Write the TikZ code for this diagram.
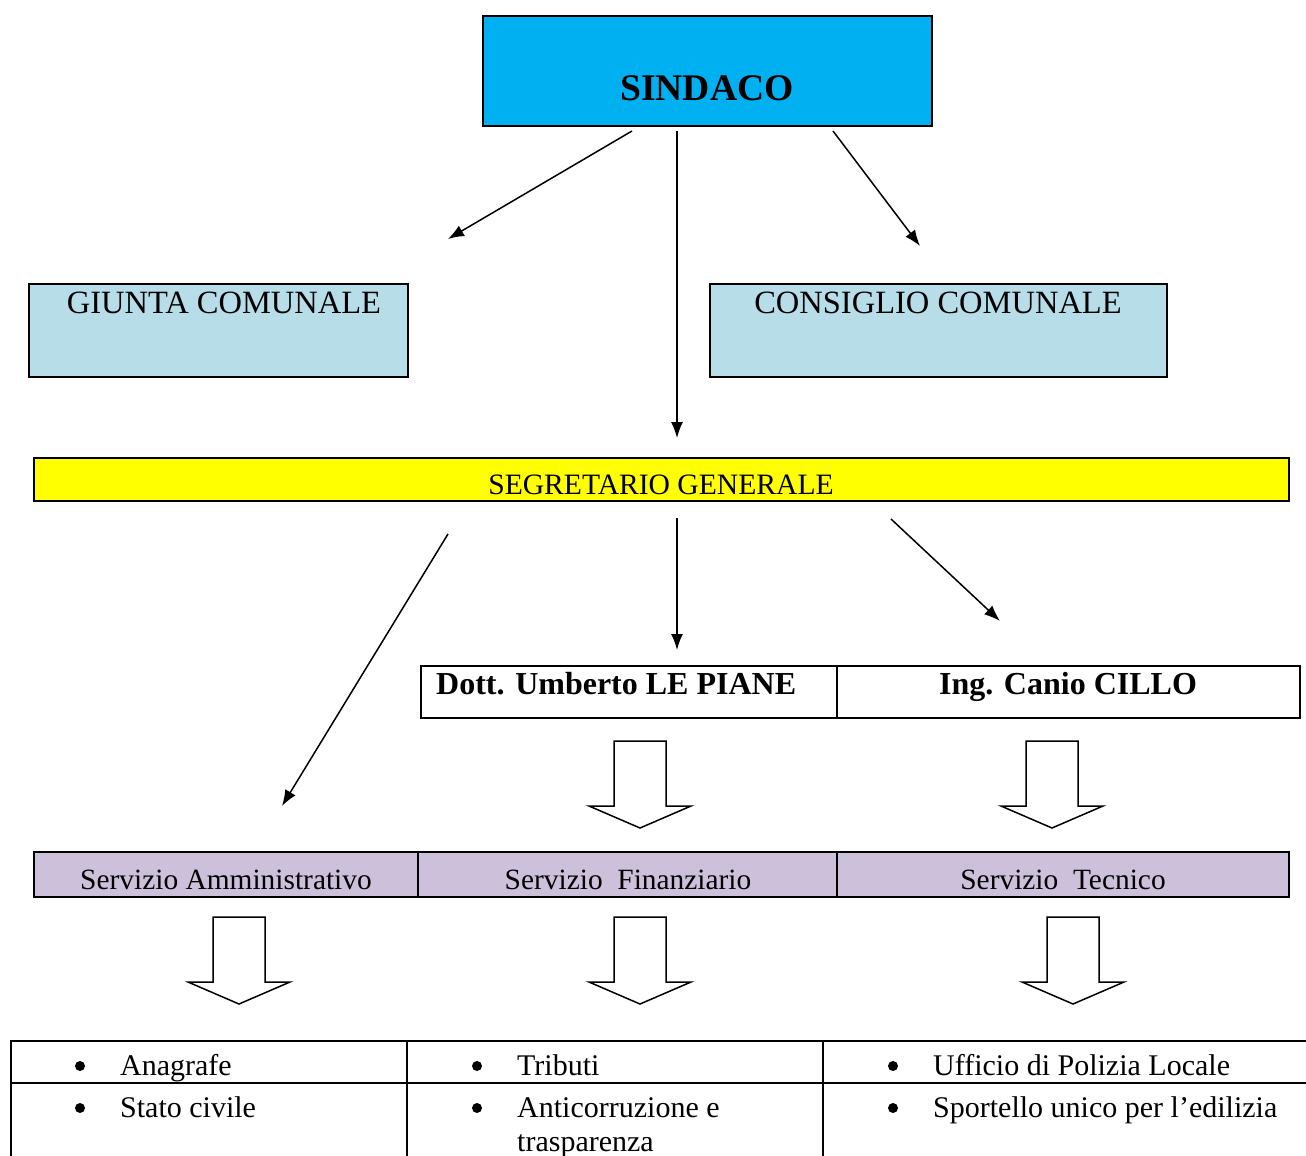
\documentclass[tikz,border=0pt]{standalone}
\usepackage{fontspec}
\setmainfont{Liberation Serif}
\usetikzlibrary{arrows.meta}
\definecolor{sindblue}{HTML}{00B0F0}
\definecolor{lightblue}{HTML}{B7DDE8}
\definecolor{lilac}{HTML}{CCC0DA}
\definecolor{segyellow}{HTML}{FFFF00}
\begin{document}
\begin{tikzpicture}[x=1pt,y=-1pt,
  box/.style={draw=black,line width=2pt},
  conn/.style={line width=1.5pt,-{Latex[length=16pt,width=12pt]}},
  txt/.style={inner sep=0pt,anchor=base},
  bigarrow/.style={draw=black,line width=1.5pt,fill=white,line join=miter},
  bul/.style={circle,fill=black,inner sep=0pt,minimum size=10pt}]
\useasboundingbox (0,0) rectangle (1306,1156);
% SINDACO
\filldraw[box,fill=sindblue] (483,16) rectangle (932,126);
\node[txt,font=\fontsize{37.6}{40}\selectfont\bfseries] (sind) at (707,100) {SINDACO};
% Giunta / Consiglio
\filldraw[box,fill=lightblue] (29,284) rectangle (408,377);
\node[txt,font=\fontsize{32.5}{34}\selectfont] (giunta) at (224,313) {GIUNTA COMUNALE};
\filldraw[box,fill=lightblue] (710,284) rectangle (1167,377);
\node[txt,font=\fontsize{32.5}{34}\selectfont] (cons) at (938,313) {CONSIGLIO COMUNALE};
% arrows from sindaco
\coordinate (s1) at (632,131); \coordinate (e1) at (448,239);
\coordinate (s2) at (677,131); \coordinate (e2) at (677,438);
\coordinate (s3) at (833,131); \coordinate (e3) at (920,246);
\draw[conn] (s1) -- (e1);
\draw[conn] (s2) -- (e2);
\draw[conn] (s3) -- (e3);
% Segretario
\filldraw[box,fill=segyellow] (34,458) rectangle (1289,501);
\node[txt,font=\fontsize{29.6}{31}\selectfont] (segr) at (661,494) {SEGRETARIO GENERALE};
\coordinate (t1) at (448,534); \coordinate (f1) at (282,806);
\coordinate (t2) at (677,518); \coordinate (f2) at (677,650);
\coordinate (t3) at (891,519); \coordinate (f3) at (1000,621);
\draw[conn] (t1) -- (f1);
\draw[conn] (t2) -- (f2);
\draw[conn] (t3) -- (f3);
% Names row
\draw[box] (421,666) rectangle (1300,718);
\draw[line width=1.5pt] (837,666) -- (837,718);
\node[txt,anchor=base west,font=\fontsize{32}{34}\selectfont\bfseries] (dott) at (436,694) {Dott. Umberto LE PIANE};
\node[txt,font=\fontsize{32}{34}\selectfont\bfseries] (ing) at (1068,694) {Ing. Canio CILLO};
% block arrows
\foreach \cx/\ty in {640/741, 1052/741, 239/917, 640/917, 1073/917}{
  \draw[bigarrow] (\cx-26,\ty) -- (\cx+26,\ty) -- (\cx+26,\ty+65) -- (\cx+51,\ty+65)
     -- (\cx,\ty+87) -- (\cx-51,\ty+65) -- (\cx-26,\ty+65) -- cycle;
}
% Servizi row
\filldraw[box,fill=lilac] (34,852) rectangle (1289,897);
\draw[line width=1.5pt] (418,852) -- (418,897);
\draw[line width=1.5pt] (837,852) -- (837,897);
\node[txt,font=\fontsize{29.4}{31}\selectfont] (amm) at (226,889) {Servizio Amministrativo};
\node[txt,font=\fontsize{29.4}{31}\selectfont] (fin) at (628,889) {Servizio\ \ Finanziario};
\node[txt,font=\fontsize{29.4}{31}\selectfont] (tec) at (1063,889) {Servizio\ \ Tecnico};
% bottom table
\draw[line width=2pt] (11,1156) -- (11,1041) -- (1306,1041);
\draw[line width=1.5pt] (11,1083) -- (1306,1083);
\draw[line width=1.5pt] (407,1041) -- (407,1156);
\draw[line width=1.5pt] (823,1041) -- (823,1156);
\tikzset{cell/.style={inner sep=0pt,anchor=base west,font=\fontsize{30}{32}\selectfont}}
\node[bul] (b1) at (80,1066) {};
\node[cell] (c1) at (120,1075) {Anagrafe};
\node[bul] (b2) at (477,1066) {};
\node[cell] (c2) at (517,1075) {Tributi};
\node[bul] (b3) at (893,1066) {};
\node[cell] (c3) at (933,1075) {Ufficio di Polizia Locale};
\node[bul] (b4) at (80,1108) {};
\node[cell] (c4) at (120,1117) {Stato civile};
\node[bul] (b5) at (477,1108) {};
\node[cell] (c5) at (517,1117) {Anticorruzione e};
\node[cell] (c5b) at (517,1151) {trasparenza};
\node[bul] (b6) at (893,1108) {};
\node[cell] (c6) at (933,1117) {Sportello unico per l’edilizia};
\end{tikzpicture}
\end{document}
